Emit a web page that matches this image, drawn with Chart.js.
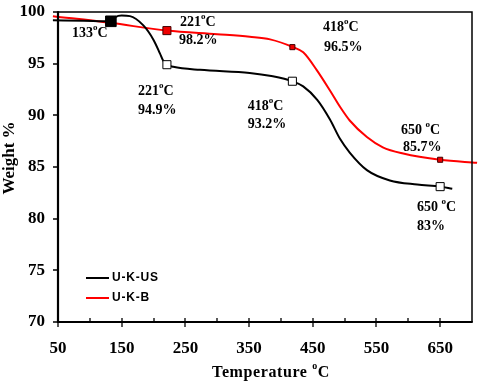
<!DOCTYPE html>
<html><head><meta charset="utf-8">
<script src="https://cdn.jsdelivr.net/npm/chart.js@4.4.1/dist/chart.umd.min.js"></script>
<style>html,body{margin:0;padding:0;background:#fff}#wrap{width:499px;height:385px}</style>
</head><body><div id="wrap"><canvas id="c" width="499" height="385"></canvas></div>
<script>
// ---- data ----
const usTemp = [42, 90, 133, 140, 150, 163, 184, 200, 210, 215, 221, 231, 273, 351, 385, 418, 435, 457, 477, 493, 508, 535, 571, 614, 650, 669];
const usWeight = [99.2, 99.15, 99.1, 99.5, 99.65, 99.6, 98.7, 97.3, 96.0, 95.3, 94.9, 94.7, 94.4, 94.1, 93.8, 93.3, 92.8, 91.5, 89.6, 87.7, 86.4, 84.7, 83.7, 83.3, 83.1, 82.9];
const bTemp = [42, 132, 221, 300, 351, 383, 419, 435, 456, 477, 493, 508, 535, 560, 592, 650, 708];
const bWeight = [99.6, 98.95, 98.2, 97.85, 97.6, 97.35, 96.6, 96.1, 94.4, 92.4, 90.8, 89.5, 87.9, 86.9, 86.3, 85.7, 85.4];
const usMarkTemp = [133, 221, 418, 650];
const usMarkWeight = [99.1, 94.9, 93.3, 83.1];
const bMarkTemp = [221, 418, 650];
const bMarkWeight = [98.2, 96.6, 85.7];
const xTicks = [50, 150, 250, 350, 450, 550, 650];
const xMinorTicks = [100, 200, 300, 400, 500, 600];
const yTicks = [70, 75, 80, 85, 90, 95, 100];
const seriesNames = ['U-K-US', 'U-K-B'];
const annotations = [
  {t: '133{o}C', x: 72, y: 97.94},
  {t: '221{o}C', x: 241.5, y: 99.03},
  {t: '98.2%', x: 240, y: 97.29},
  {t: '221{o}C', x: 175.6, y: 92.35},
  {t: '94.9%', x: 175.6, y: 90.52},
  {t: '418{o}C', x: 466, y: 98.55},
  {t: '96.5%', x: 467.7, y: 96.61},
  {t: '418{o}C', x: 348, y: 90.9},
  {t: '93.2%', x: 348, y: 89.16},
  {t: '650 {o}C', x: 588.5, y: 88.58},
  {t: '85.7%', x: 591.7, y: 86.94},
  {t: '650 {o}C', x: 613.6, y: 81.13},
  {t: '83%', x: 613.6, y: 79.29}
];

const SERIF = '"Liberation Serif", "Times New Roman", serif';
const SANS = '"Liberation Sans", Arial, sans-serif';

function drawRich(ctx, text, x, y, size, align) {
  const parts = text.split(/(\{o\})/).filter(p => p.length);
  const big = 'bold ' + size + 'px ' + SERIF;
  const small = 'bold ' + Math.round(size * 0.62) + 'px ' + SERIF;
  let w = 0;
  parts.forEach(p => { ctx.font = p === '{o}' ? small : big; w += ctx.measureText(p === '{o}' ? 'o' : p).width; });
  let cx = align === 'center' ? x - w / 2 : x;
  ctx.textAlign = 'left';
  ctx.textBaseline = 'middle';
  parts.forEach(p => {
    if (p === '{o}') { ctx.font = small; ctx.fillText('o', cx, y - size * 0.38); cx += ctx.measureText('o').width; }
    else { ctx.font = big; ctx.fillText(p, cx, y); cx += ctx.measureText(p).width; }
  });
}

const deco = {
  id: 'deco',
  afterDatasetsDraw(chart) {
    const ctx = chart.ctx, a = chart.chartArea, xs = chart.scales.x, ys = chart.scales.y;
    ctx.save();
    ctx.strokeStyle = '#000';
    ctx.lineWidth = 1.5;
    ctx.beginPath();
    ctx.moveTo(a.left, a.top); ctx.lineTo(a.right, a.top); ctx.lineTo(a.right, a.bottom);
    ctx.stroke();
    ctx.lineWidth = 2.2;
    ctx.beginPath();
    ctx.moveTo(a.left, a.top - 0.75); ctx.lineTo(a.left, a.bottom); ctx.lineTo(a.right + 0.75, a.bottom);
    ctx.stroke();
    ctx.lineWidth = 1.3;
    ctx.beginPath();
    yTicks.forEach(v => { const py = Math.round(ys.getPixelForValue(v)); ctx.moveTo(a.left - 5, py); ctx.lineTo(a.left, py); });
    xTicks.forEach(v => { const px = Math.round(xs.getPixelForValue(v)); ctx.moveTo(px, a.bottom - 4); ctx.lineTo(px, a.bottom + 5); });
    xMinorTicks.forEach(v => { const px = Math.round(xs.getPixelForValue(v)); ctx.moveTo(px, a.bottom - 4); ctx.lineTo(px, a.bottom); });
    ctx.stroke();
    ctx.fillStyle = '#000';
    annotations.forEach(n => drawRich(ctx, n.t, xs.getPixelForValue(n.x), ys.getPixelForValue(n.y), 14, 'left'));
    const lx = a.left + 28, ly = a.bottom - 44;
    [0, 1].forEach(i => {
      const ds = chart.data.datasets[i];
      const yy = ly + i * 20;
      ctx.strokeStyle = ds.borderColor; ctx.lineWidth = 2;
      ctx.beginPath(); ctx.moveTo(lx, yy); ctx.lineTo(lx + 23, yy); ctx.stroke();
      ctx.fillStyle = '#000'; ctx.font = 'bold 12px ' + SANS; ctx.textAlign = 'left'; ctx.textBaseline = 'middle';
      ctx.letterSpacing = '0.8px';
      ctx.fillText(ds.label, lx + 26, yy);
      ctx.letterSpacing = '0px';
    });
    ctx.fillStyle = '#000';
    ctx.letterSpacing = '0.6px';
    drawRich(ctx, 'Temperature {o}C', 271, 373, 16, 'center');
    ctx.letterSpacing = '0px';
    ctx.translate(10, 158);
    ctx.rotate(-Math.PI / 2);
    drawRich(ctx, 'Weight %', 0, 0, 17, 'center');
    ctx.restore();
  }
};

new Chart(document.getElementById('c'), {
  type: 'line',
  data: {
    datasets: [
      {label: seriesNames[0], data: usTemp.map((t, i) => ({x: t, y: usWeight[i]})), borderColor: '#000000', borderWidth: 2, pointRadius: 0, cubicInterpolationMode: 'monotone', clip: false, order: 3},
      {label: seriesNames[1], data: bTemp.map((t, i) => ({x: t, y: bWeight[i]})), borderColor: '#ff0000', borderWidth: 2, pointRadius: 0, cubicInterpolationMode: 'monotone', clip: false, order: 4},
      {label: 'us-m', data: usMarkTemp.map((t, i) => ({x: t, y: usMarkWeight[i]})), showLine: false, pointStyle: 'rect', pointRadius: [7.5, 5.7, 5.7, 5.7], backgroundColor: ['#000', '#fff', '#fff', '#fff'], borderColor: '#000', borderWidth: 1, order: 1},
      {label: 'b-m', data: bMarkTemp.map((t, i) => ({x: t, y: bMarkWeight[i]})), showLine: false, pointStyle: 'rect', pointRadius: [5.7, 3.6, 3.6], backgroundColor: '#ee0000', borderColor: '#400000', borderWidth: 1, order: 2}
    ]
  },
  options: {
    responsive: false, animation: false, events: [],
    layout: {padding: {top: 12, right: 27, left: 0, bottom: 0}},
    plugins: {legend: {display: false}, tooltip: {enabled: false}},
    scales: {
      x: {type: 'linear', min: 50, max: 700,
        afterBuildTicks: s => { s.ticks = xTicks.map(v => ({value: v})); },
        afterFit: s => { s.height = 63; s.paddingLeft = 0; s.paddingRight = 0; s.paddingTop = 0; s.paddingBottom = 0; },
        grid: {display: false, drawTicks: false}, border: {display: false},
        ticks: {color: '#000', padding: 16, font: {family: SERIF, size: 17, weight: 'bold'}, maxRotation: 0, autoSkip: false}},
      y: {type: 'linear', min: 70, max: 100,
        afterBuildTicks: s => { s.ticks = yTicks.map(v => ({value: v})); },
        afterFit: s => { s.width = 58; s.paddingLeft = 0; s.paddingRight = 0; s.paddingTop = 0; s.paddingBottom = 0; },
        grid: {display: false, drawTicks: false}, border: {display: false},
        ticks: {color: '#000', padding: 13, font: {family: SERIF, size: 17, weight: 'bold'}}}
    }
  },
  plugins: [deco]
});
</script></body></html>
